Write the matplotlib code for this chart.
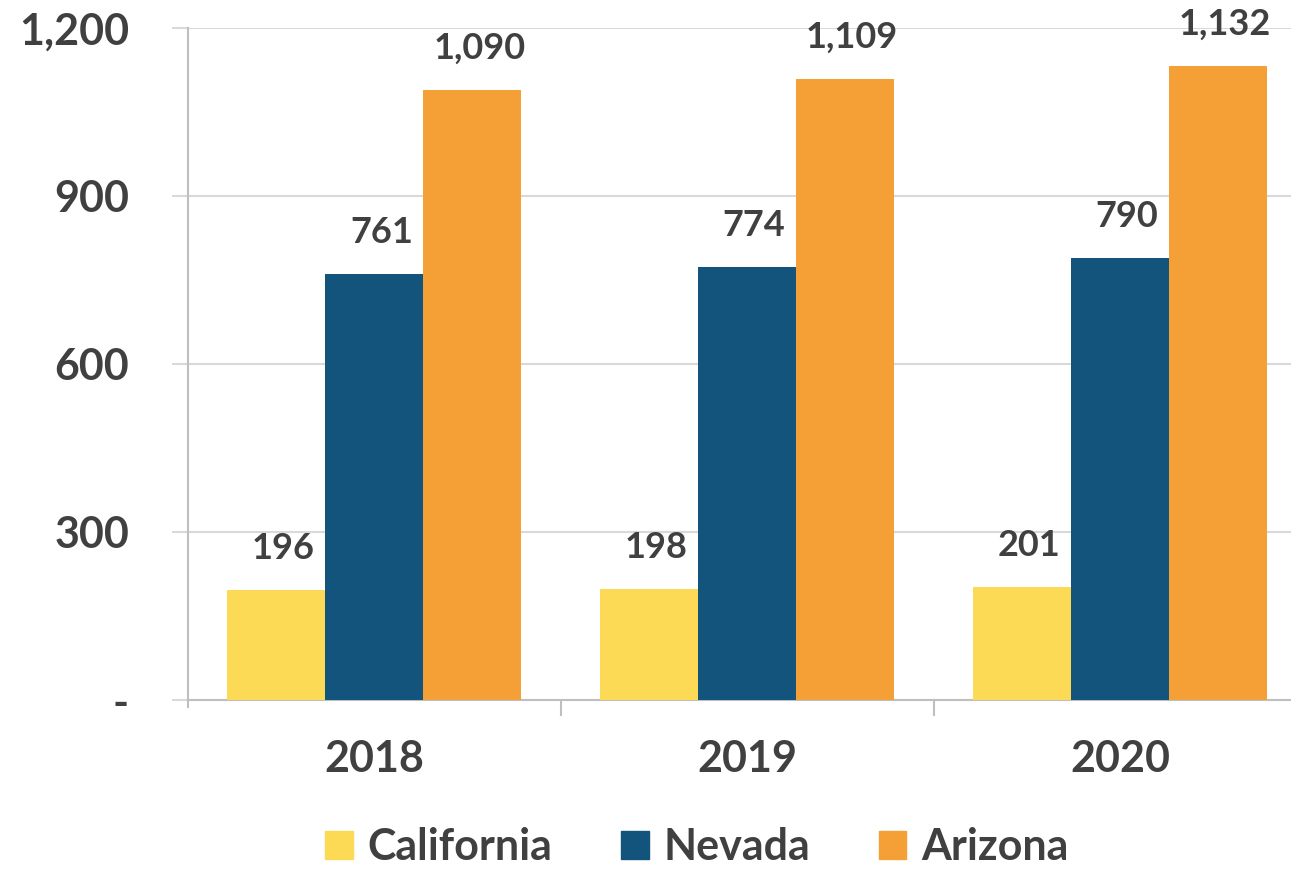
import matplotlib.pyplot as plt
import matplotlib.patches as mpatches
import numpy as np

plt.rcParams['font.family'] = ['Lato', 'DejaVu Sans']
plt.rcParams['font.weight'] = 'bold'

years = ['2018', '2019', '2020']
states = ['California', 'Nevada', 'Arizona']
california = [196, 198, 201]
nevada = [761, 774, 790]
arizona = [1090, 1109, 1132]
colors = ['#FDDA55', '#12547B', '#F59F37']
yticks = [0, 300, 600, 900, 1200]
ytick_labels = ['-', '300', '600', '900', '1,200']

text_color = '#404040'
W, H = 1291, 873
fig = plt.figure(figsize=(W / 100, H / 100), dpi=100)
ax = fig.add_axes([188 / W, (H - 700) / H, 1118.5 / W, 672 / H])

x = np.arange(len(years))
bw = 0.263
for i, (vals, c, name) in enumerate(zip([california, nevada, arizona], colors, states)):
    bars = ax.bar(x + (i - 1) * bw, vals, width=bw, color=c, label=name, zorder=3)
    for b, v in zip(bars, vals):
        ax.annotate(f'{v:,}', (b.get_x() + b.get_width() / 2, v), xytext=(5, 18),
                    textcoords='offset points', ha='center', va='bottom',
                    fontsize=26, fontweight='bold', color=text_color)

ax.set_xlim(-0.5, 2.5)
ax.set_ylim(0, 1200)
ax.set_yticks(yticks)
ax.set_yticklabels(ytick_labels)
ax.set_xticks(x)
ax.set_xticklabels(years)
ax.set_xticks([0.5, 1.5, 2.5], minor=True)

ax.grid(axis='y', color='#D9D9D9', linewidth=1.5, zorder=0)
for s in ['top', 'right']:
    ax.spines[s].set_visible(False)
for s in ['left', 'bottom']:
    ax.spines[s].set_color('#BFBFBF')
    ax.spines[s].set_linewidth(1.5)
ax.spines['left'].set_bounds(-12, 1200)
ax.spines['left'].set_position(('data', -0.5))

ax.tick_params(axis='y', length=11.5, width=1.5, color='#D9D9D9', pad=31,
               labelsize=31, labelcolor=text_color)
ax.tick_params(axis='x', which='major', length=0, pad=28,
               labelsize=31, labelcolor=text_color)
ax.tick_params(axis='x', which='minor', length=11.5, width=1.5, color='#BFBFBF')
for lab in ax.get_yticklabels() + ax.get_xticklabels():
    lab.set_fontweight('bold')

handles = [mpatches.Patch(color=c, label=s) for c, s in zip(colors, states)]
leg = fig.legend(handles=handles, loc='lower center', bbox_to_anchor=(0.54, -0.018),
                 ncol=3, frameon=False, fontsize=31, handlelength=0.63, handleheight=0.63,
                 handletextpad=0.35, columnspacing=1.6, borderpad=0)
for t in leg.get_texts():
    t.set_color(text_color)
    t.set_fontweight('bold')

fig.savefig('out.png', dpi=100)
